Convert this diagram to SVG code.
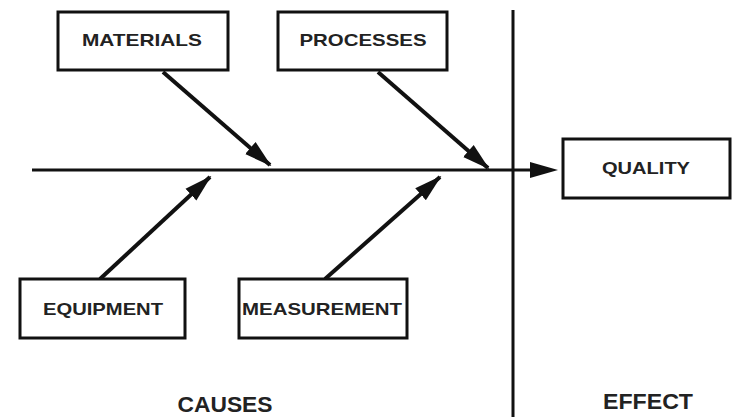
<svg xmlns="http://www.w3.org/2000/svg" width="734" height="417" viewBox="0 0 734 417">
<style>
.box{fill:#fff;stroke:#111;stroke-width:3}
.lbl{font-family:"Liberation Sans",Arial,sans-serif;font-weight:bold;font-size:17px;fill:#222;text-anchor:middle}
.big{font-family:"Liberation Sans",Arial,sans-serif;font-weight:bold;font-size:22px;fill:#222;text-anchor:middle}
.ln{stroke:#111;fill:none}
</style>
<defs>
<marker id="ah" markerUnits="userSpaceOnUse" markerWidth="28" markerHeight="20" viewBox="0 0 28 20" refX="26" refY="10" orient="auto">
<path d="M0,2 L28,10 L0,18 Z" fill="#111"/>
</marker>
</defs>
<rect width="734" height="417" fill="#fff"/>
<g id="connectors">
<line class="ln" x1="32" y1="170" x2="535" y2="170" stroke-width="3"/>
<path d="M530,162 L558,170 L530,178 Z" fill="#111"/>
<line class="ln" x1="513" y1="10" x2="513" y2="417" stroke-width="3"/>
<line class="ln" x1="163" y1="72" x2="270" y2="165" stroke-width="4" marker-end="url(#ah)"/>
<line class="ln" x1="378" y1="72" x2="488" y2="168" stroke-width="4" marker-end="url(#ah)"/>
<line class="ln" x1="100" y1="279" x2="210" y2="177" stroke-width="4" marker-end="url(#ah)"/>
<line class="ln" x1="325" y1="279" x2="440" y2="177" stroke-width="4" marker-end="url(#ah)"/>
</g>
<g id="materials">
<rect class="box" x="58" y="12" width="170" height="58"/>
<text class="lbl" x="142" y="46" textLength="120" lengthAdjust="spacingAndGlyphs">MATERIALS</text>
</g>
<g id="processes">
<rect class="box" x="278" y="12" width="169" height="58"/>
<text class="lbl" x="363" y="46" textLength="127" lengthAdjust="spacingAndGlyphs">PROCESSES</text>
</g>
<g id="quality">
<rect class="box" x="563" y="139" width="167" height="59"/>
<text class="lbl" x="646" y="174" textLength="88" lengthAdjust="spacingAndGlyphs">QUALITY</text>
</g>
<g id="equipment">
<rect class="box" x="20" y="279" width="165" height="59"/>
<text class="lbl" x="103" y="315" textLength="120" lengthAdjust="spacingAndGlyphs">EQUIPMENT</text>
</g>
<g id="measurement">
<rect class="box" x="239" y="279" width="168" height="59"/>
<text class="lbl" x="322" y="315" textLength="160" lengthAdjust="spacingAndGlyphs">MEASUREMENT</text>
</g>
<g id="causes">
<text class="big" x="225" y="412" textLength="95" lengthAdjust="spacingAndGlyphs">CAUSES</text>
</g>
<g id="effect">
<text class="big" x="648" y="409" textLength="90" lengthAdjust="spacingAndGlyphs">EFFECT</text>
</g>
</svg>
